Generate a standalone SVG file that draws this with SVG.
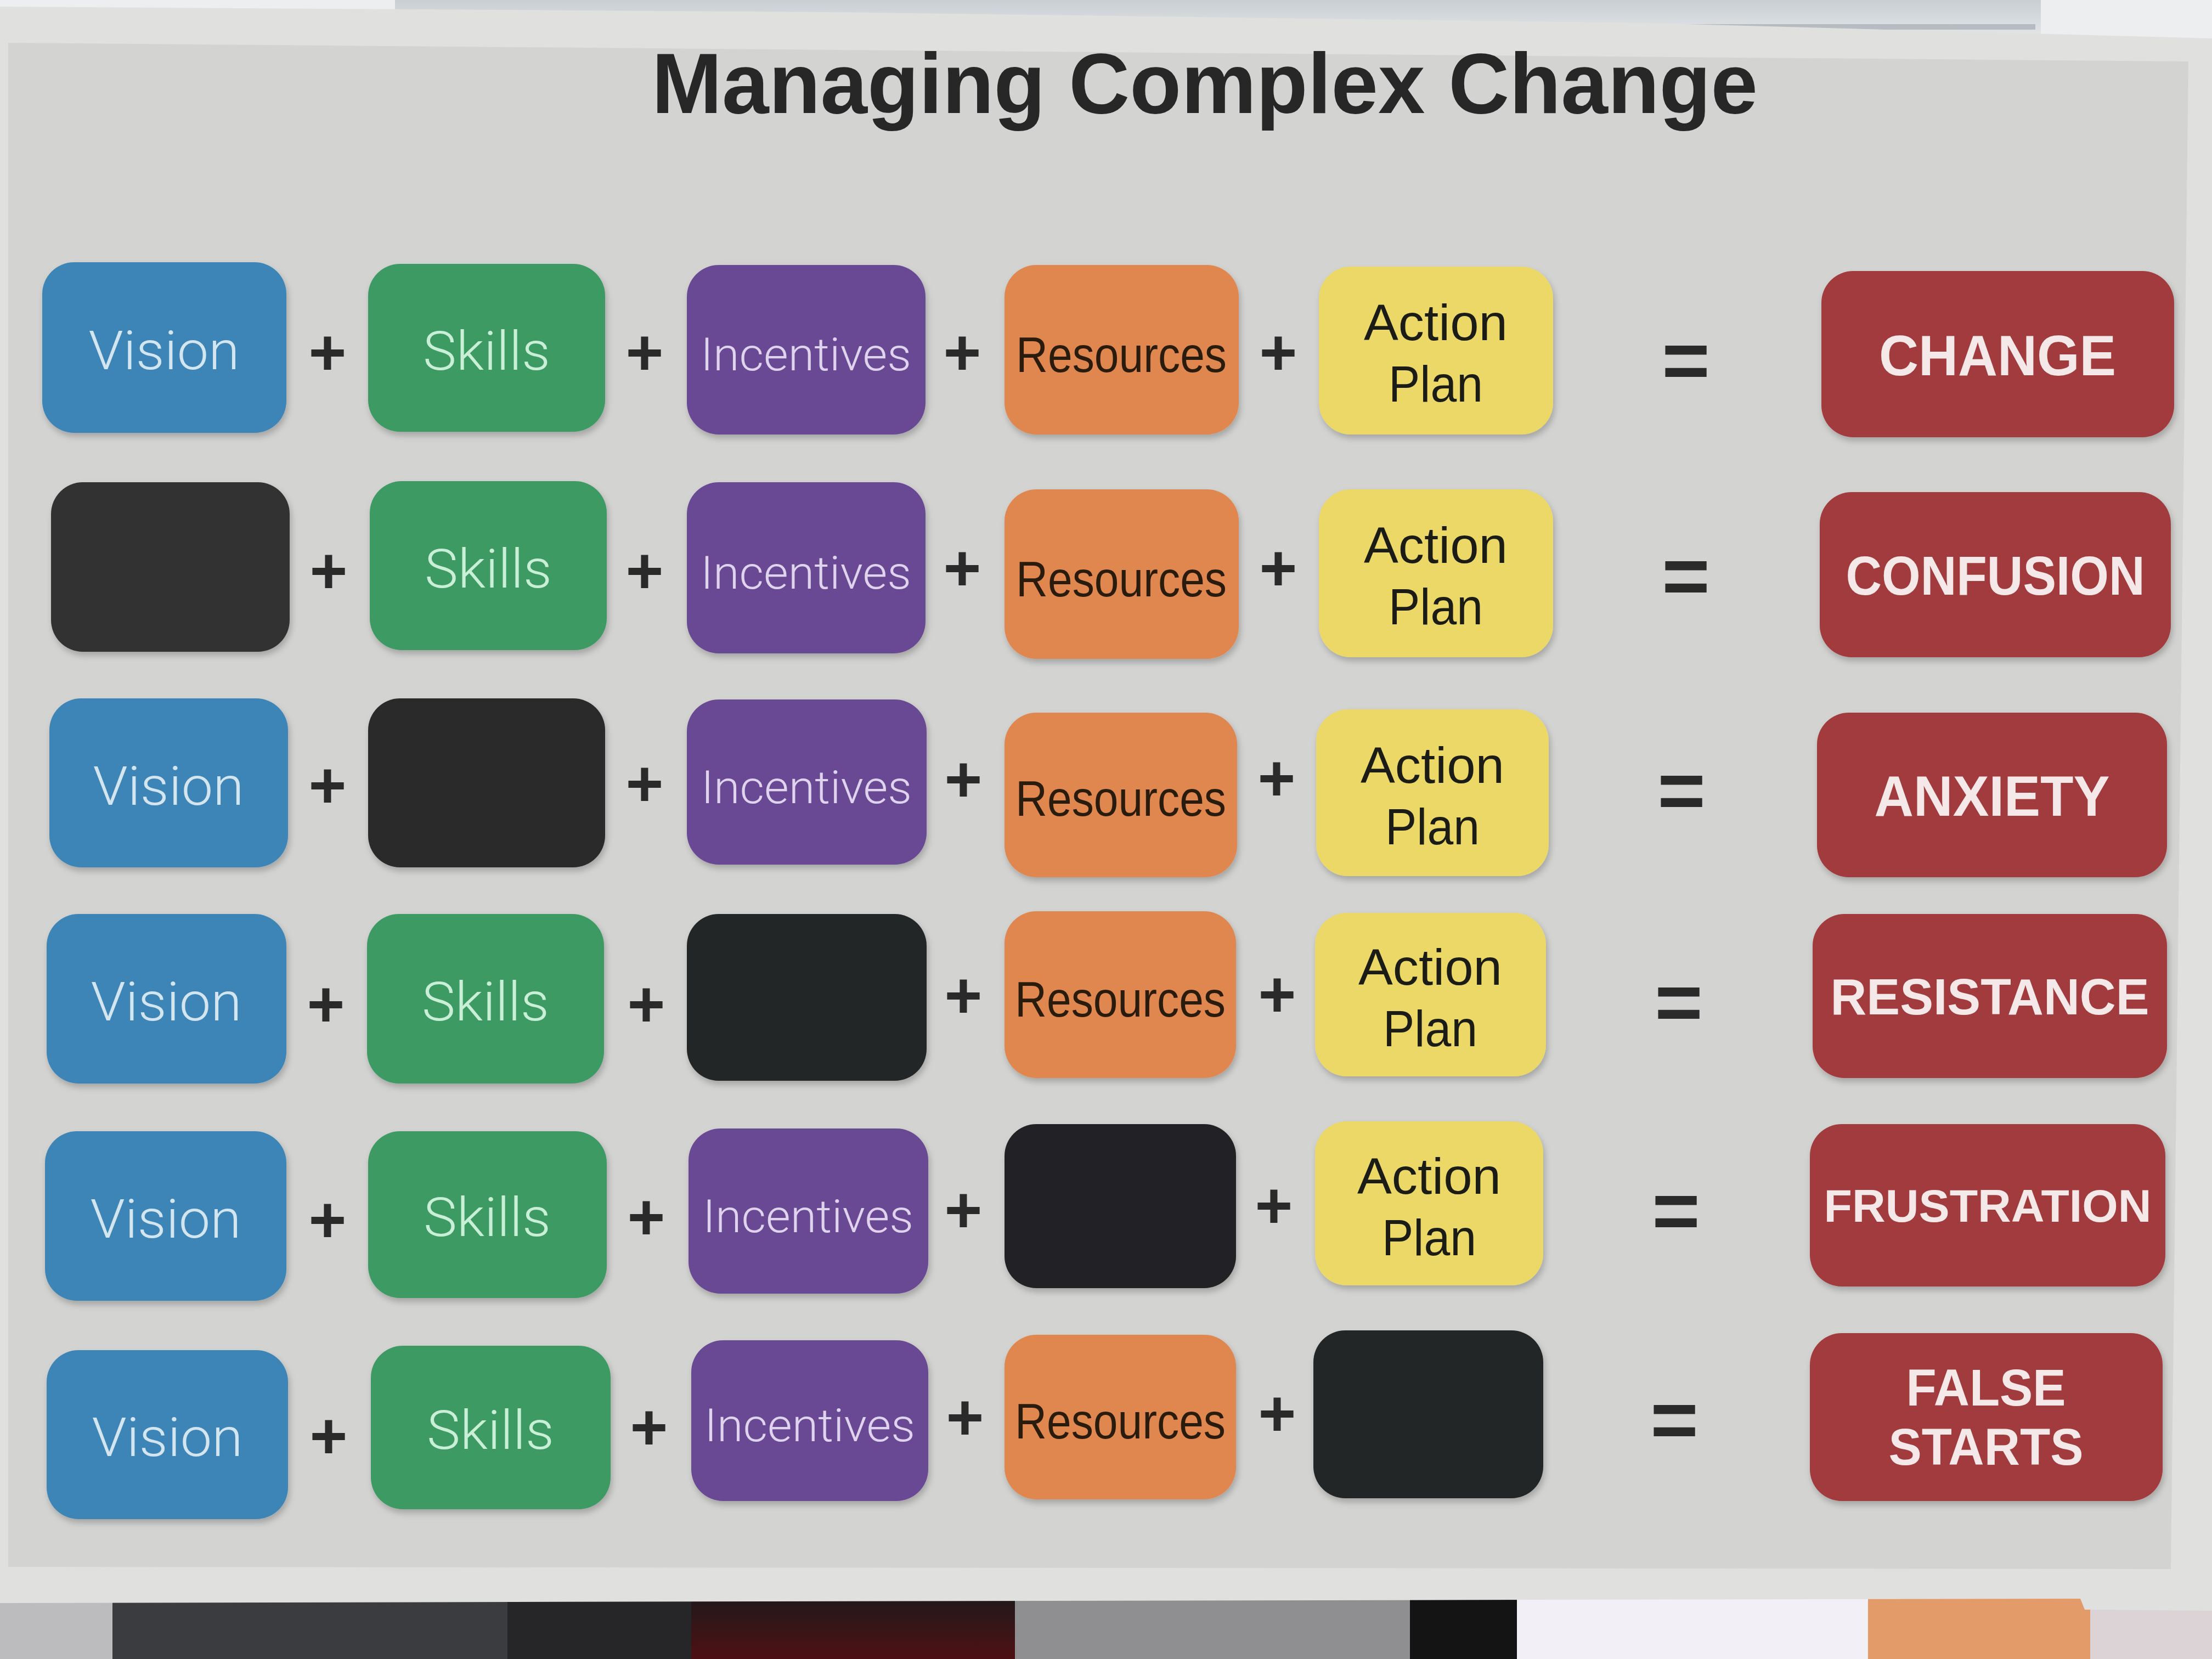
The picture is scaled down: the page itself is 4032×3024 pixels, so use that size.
<svg xmlns="http://www.w3.org/2000/svg" width="4032" height="3024" viewBox="0 0 4032 3024">
  <style>
    .card { filter: url(#lift); }
    .vision { fill: #3e85b6; }
    .skills { fill: #3e9a63; }
    .incent { fill: #6a4a94; }
    .resrc  { fill: #e0874f; }
    .plan   { fill: #ebd866; }
    .blank  { fill: #2a2c2c; }
    .result { fill: #a13a3c; }
    .lt { font-family: Roboto, "Open Sans", "Liberation Sans", sans-serif; font-weight: 300; text-anchor: middle; }
    .rg { font-family: "Liberation Sans", Arial, sans-serif; font-weight: 400; text-anchor: middle; }
    .bd { font-family: "Liberation Sans", Arial, sans-serif; font-weight: 700; text-anchor: middle; fill: #f5e8e8; }
    .tv { fill: #d3e6f0; font-size: 98px; }
    .ts { fill: #c9f0d6; font-size: 98px; }
    .ti { fill: #e0d3ee; font-size: 84px; }
    .tr { fill: #2b1a0e; font-size: 90px; }
    .ta { fill: #1f1e16; font-size: 92px; }
    .op { font-family: "Liberation Sans", Arial, sans-serif; font-weight: 700; text-anchor: middle; fill: #2a2a2a; }
    .plus { font-size: 118px; }
    .eq { font-size: 150px; }
  </style>
  <defs>
    <filter id="lift" x="-10%" y="-10%" width="120%" height="125%">
      <feDropShadow dx="3" dy="7" stdDeviation="6" flood-color="#000" flood-opacity="0.22"/>
    </filter>
    <linearGradient id="wine" x1="0" y1="0" x2="0" y2="1">
      <stop offset="0" stop-color="#1c1a1b"/>
      <stop offset="1" stop-color="#4e1014"/>
    </linearGradient>
    <linearGradient id="topGlow" x1="0" y1="0" x2="0" y2="1">
      <stop offset="0" stop-color="#c9ced2"/>
      <stop offset="1" stop-color="#e3e7ea"/>
    </linearGradient>
  </defs>

  <!-- surroundings behind the sheet -->
  <rect x="0" y="0" width="4032" height="3024" fill="#eceeef"/>
  <rect x="720" y="0" width="3000" height="70" fill="url(#topGlow)"/>
  <rect x="3050" y="44" width="660" height="10" fill="#9da3aa" opacity="0.6"/>
  <rect x="0" y="2900" width="205" height="124" fill="#bcbcbe"/>
  <rect x="205" y="2900" width="720" height="124" fill="#3b3c3f"/>
  <rect x="925" y="2900" width="335" height="124" fill="#262628"/>
  <rect x="1260" y="2900" width="590" height="124" fill="url(#wine)"/>
  <rect x="1850" y="2900" width="720" height="124" fill="#8f8f91"/>
  <rect x="2570" y="2900" width="195" height="124" fill="#141414"/>
  <rect x="2765" y="2900" width="640" height="124" fill="#f3eff6"/>
  <rect x="3405" y="2900" width="405" height="124" fill="#e39b6a"/>
  <rect x="3810" y="2900" width="222" height="124" fill="#dcd3d6"/>

  <!-- the printed sheet: pale margin and grey print area -->
  <polygon points="0,12 1500,22 3000,42 4032,70 4032,2936 3800,2934 3792,2914 0,2922" fill="#e0e1de"/>
  <polygon points="15,78 3989,112 3957,2860 15,2856" fill="#d3d4d2"/>

  <!-- title -->
  <text id="title" x="2196" y="206" font-family="'Liberation Sans', Arial, sans-serif" font-weight="700" font-size="156" fill="#272727" text-anchor="middle" textLength="2016" lengthAdjust="spacingAndGlyphs">Managing Complex Change</text>

  <!-- row 1 : everything present -->
  <g id="r1-vision" class="card"><rect class="vision" x="77" y="478" width="445" height="311" rx="58"/><text class="lt tv" x="299" y="673" textLength="275" lengthAdjust="spacingAndGlyphs">Vision</text></g>
  <g id="r1-skills" class="card"><rect class="skills" x="671" y="481" width="432" height="306" rx="58"/><text class="lt ts" x="887" y="674" textLength="232" lengthAdjust="spacingAndGlyphs">Skills</text></g>
  <g id="r1-incentives" class="card"><rect class="incent" x="1252" y="483" width="435" height="309" rx="58"/><text class="lt ti" x="1469" y="675" textLength="384" lengthAdjust="spacingAndGlyphs">Incentives</text></g>
  <g id="r1-resources" class="card"><rect class="resrc" x="1831" y="483" width="427" height="309" rx="58"/><text class="rg tr" x="2044" y="678" textLength="384" lengthAdjust="spacingAndGlyphs">Resources</text></g>
  <g id="r1-plan" class="card"><rect class="plan" x="2404" y="486" width="427" height="306" rx="58"/><text class="rg ta" x="2617" y="620" textLength="262" lengthAdjust="spacingAndGlyphs">Action</text><text class="rg ta" x="2617" y="732" textLength="172" lengthAdjust="spacingAndGlyphs">Plan</text></g>
  <g id="r1-result" class="card"><rect class="result" x="3320" y="494" width="643" height="303" rx="58"/><text class="bd" x="3641" y="684" font-size="104" textLength="432" lengthAdjust="spacingAndGlyphs">CHANGE</text></g>

  <!-- row 2 : no vision -->
  <g id="r2-vision" class="card"><rect class="blank" x="93" y="879" width="435" height="309" rx="58" style="fill:#313232"/></g>
  <g id="r2-skills" class="card"><rect class="skills" x="674" y="877" width="432" height="308" rx="58"/><text class="lt ts" x="890" y="1071" textLength="232" lengthAdjust="spacingAndGlyphs">Skills</text></g>
  <g id="r2-incentives" class="card"><rect class="incent" x="1252" y="879" width="435" height="312" rx="58"/><text class="lt ti" x="1469" y="1073" textLength="384" lengthAdjust="spacingAndGlyphs">Incentives</text></g>
  <g id="r2-resources" class="card"><rect class="resrc" x="1831" y="892" width="427" height="309" rx="58"/><text class="rg tr" x="2044" y="1087" textLength="384" lengthAdjust="spacingAndGlyphs">Resources</text></g>
  <g id="r2-plan" class="card"><rect class="plan" x="2404" y="892" width="427" height="306" rx="58"/><text class="rg ta" x="2617" y="1026" textLength="262" lengthAdjust="spacingAndGlyphs">Action</text><text class="rg ta" x="2617" y="1138" textLength="172" lengthAdjust="spacingAndGlyphs">Plan</text></g>
  <g id="r2-result" class="card"><rect class="result" x="3317" y="897" width="640" height="301" rx="58"/><text class="bd" x="3637" y="1084" font-size="100" textLength="545" lengthAdjust="spacingAndGlyphs">CONFUSION</text></g>

  <!-- row 3 : no skills -->
  <g id="r3-vision" class="card"><rect class="vision" x="90" y="1273" width="435" height="308" rx="58"/><text class="lt tv" x="307" y="1467" textLength="275" lengthAdjust="spacingAndGlyphs">Vision</text></g>
  <g id="r3-skills" class="card"><rect class="blank" x="671" y="1273" width="432" height="308" rx="58"/></g>
  <g id="r3-incentives" class="card"><rect class="incent" x="1252" y="1275" width="437" height="301" rx="58"/><text class="lt ti" x="1470" y="1464" textLength="384" lengthAdjust="spacingAndGlyphs">Incentives</text></g>
  <g id="r3-resources" class="card"><rect class="resrc" x="1831" y="1299" width="424" height="300" rx="58"/><text class="rg tr" x="2043" y="1487" textLength="384" lengthAdjust="spacingAndGlyphs">Resources</text></g>
  <g id="r3-plan" class="card"><rect class="plan" x="2399" y="1293" width="424" height="304" rx="58"/><text class="rg ta" x="2611" y="1427" textLength="262" lengthAdjust="spacingAndGlyphs">Action</text><text class="rg ta" x="2611" y="1539" textLength="172" lengthAdjust="spacingAndGlyphs">Plan</text></g>
  <g id="r3-result" class="card"><rect class="result" x="3312" y="1299" width="638" height="300" rx="58"/><text class="bd" x="3631" y="1487" font-size="104" textLength="429" lengthAdjust="spacingAndGlyphs">ANXIETY</text></g>

  <!-- row 4 : no incentives -->
  <g id="r4-vision" class="card"><rect class="vision" x="85" y="1666" width="437" height="309" rx="58"/><text class="lt tv" x="303" y="1860" textLength="275" lengthAdjust="spacingAndGlyphs">Vision</text></g>
  <g id="r4-skills" class="card"><rect class="skills" x="669" y="1666" width="432" height="309" rx="58"/><text class="lt ts" x="885" y="1860" textLength="232" lengthAdjust="spacingAndGlyphs">Skills</text></g>
  <g id="r4-incentives" class="card"><rect class="blank" x="1252" y="1666" width="437" height="304" rx="58" style="fill:#242627"/></g>
  <g id="r4-resources" class="card"><rect class="resrc" x="1831" y="1661" width="422" height="304" rx="58"/><text class="rg tr" x="2042" y="1853" textLength="384" lengthAdjust="spacingAndGlyphs">Resources</text></g>
  <g id="r4-plan" class="card"><rect class="plan" x="2397" y="1664" width="421" height="298" rx="58"/><text class="rg ta" x="2607" y="1795" textLength="262" lengthAdjust="spacingAndGlyphs">Action</text><text class="rg ta" x="2607" y="1907" textLength="172" lengthAdjust="spacingAndGlyphs">Plan</text></g>
  <g id="r4-result" class="card"><rect class="result" x="3304" y="1666" width="646" height="299" rx="58"/><text class="bd" x="3627" y="1849" font-size="92" textLength="581" lengthAdjust="spacingAndGlyphs">RESISTANCE</text></g>

  <!-- row 5 : no resources -->
  <g id="r5-vision" class="card"><rect class="vision" x="82" y="2062" width="440" height="309" rx="58"/><text class="lt tv" x="302" y="2256" textLength="275" lengthAdjust="spacingAndGlyphs">Vision</text></g>
  <g id="r5-skills" class="card"><rect class="skills" x="671" y="2062" width="435" height="304" rx="58"/><text class="lt ts" x="888" y="2253" textLength="232" lengthAdjust="spacingAndGlyphs">Skills</text></g>
  <g id="r5-incentives" class="card"><rect class="incent" x="1255" y="2057" width="437" height="301" rx="58"/><text class="lt ti" x="1473" y="2246" textLength="384" lengthAdjust="spacingAndGlyphs">Incentives</text></g>
  <g id="r5-resources" class="card"><rect class="blank" x="1831" y="2049" width="422" height="299" rx="58" style="fill:#222425"/></g>
  <g id="r5-plan" class="card"><rect class="plan" x="2397" y="2044" width="416" height="299" rx="58"/><text class="rg ta" x="2605" y="2176" textLength="262" lengthAdjust="spacingAndGlyphs">Action</text><text class="rg ta" x="2605" y="2288" textLength="172" lengthAdjust="spacingAndGlyphs">Plan</text></g>
  <g id="r5-result" class="card"><rect class="result" x="3299" y="2049" width="648" height="296" rx="58"/><text class="bd" x="3623" y="2227" font-size="84" textLength="597" lengthAdjust="spacingAndGlyphs">FRUSTRATION</text></g>

  <!-- row 6 : no action plan -->
  <g id="r6-vision" class="card"><rect class="vision" x="85" y="2461" width="440" height="308" rx="58"/><text class="lt tv" x="305" y="2654" textLength="275" lengthAdjust="spacingAndGlyphs">Vision</text></g>
  <g id="r6-skills" class="card"><rect class="skills" x="676" y="2453" width="437" height="298" rx="58"/><text class="lt ts" x="894" y="2641" textLength="232" lengthAdjust="spacingAndGlyphs">Skills</text></g>
  <g id="r6-incentives" class="card"><rect class="incent" x="1260" y="2443" width="432" height="293" rx="58"/><text class="lt ti" x="1476" y="2627" textLength="384" lengthAdjust="spacingAndGlyphs">Incentives</text></g>
  <g id="r6-resources" class="card"><rect class="resrc" x="1831" y="2433" width="422" height="300" rx="58"/><text class="rg tr" x="2042" y="2622" textLength="384" lengthAdjust="spacingAndGlyphs">Resources</text></g>
  <g id="r6-plan" class="card"><rect class="blank" x="2394" y="2425" width="419" height="306" rx="58" style="fill:#242627"/></g>
  <g id="r6-result" class="card"><rect class="result" x="3299" y="2430" width="643" height="306" rx="58"/><text class="bd" x="3620" y="2562" font-size="94" textLength="291" lengthAdjust="spacingAndGlyphs">FALSE</text><text class="bd" x="3620" y="2670" font-size="94" textLength="355" lengthAdjust="spacingAndGlyphs">STARTS</text></g>

  <!-- operators joining the cards of each row -->
  <g id="operators" class="op">
    <text class="plus" x="597" y="683">+</text>
    <text class="plus" x="1175" y="683">+</text>
    <text class="plus" x="1754" y="683">+</text>
    <text class="plus" x="2330" y="683">+</text>
    <text class="eq" x="3073" y="708">=</text>

    <text class="plus" x="599" y="1081">+</text>
    <text class="plus" x="1175" y="1081">+</text>
    <text class="plus" x="1754" y="1076">+</text>
    <text class="plus" x="2330" y="1076">+</text>
    <text class="eq" x="3073" y="1101">=</text>

    <text class="plus" x="597" y="1472">+</text>
    <text class="plus" x="1175" y="1469">+</text>
    <text class="plus" x="1756" y="1461">+</text>
    <text class="plus" x="2327" y="1459">+</text>
    <text class="eq" x="3065" y="1492">=</text>

    <text class="plus" x="594" y="1871">+</text>
    <text class="plus" x="1178" y="1871">+</text>
    <text class="plus" x="1756" y="1855">+</text>
    <text class="plus" x="2328" y="1853">+</text>
    <text class="eq" x="3060" y="1878">=</text>

    <text class="plus" x="597" y="2264">+</text>
    <text class="plus" x="1178" y="2259">+</text>
    <text class="plus" x="1756" y="2246">+</text>
    <text class="plus" x="2322" y="2238">+</text>
    <text class="eq" x="3055" y="2258">=</text>

    <text class="plus" x="599" y="2658">+</text>
    <text class="plus" x="1183" y="2642">+</text>
    <text class="plus" x="1759" y="2624">+</text>
    <text class="plus" x="2328" y="2617">+</text>
    <text class="eq" x="3052" y="2639">=</text>
  </g>
</svg>
